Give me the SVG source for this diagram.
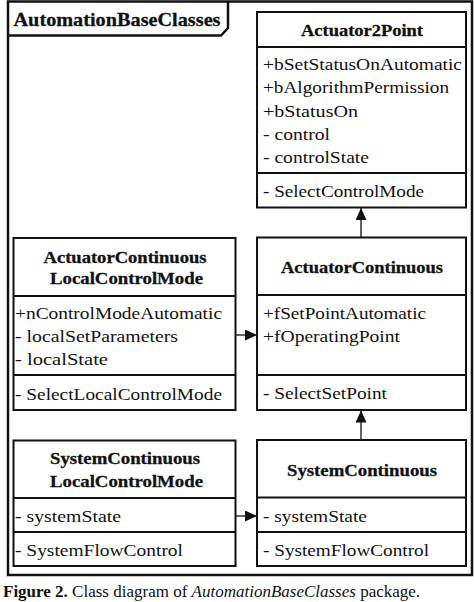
<svg xmlns="http://www.w3.org/2000/svg" width="474" height="602" viewBox="0 0 474 602">
<style>
.frame{fill:none;stroke:#111;stroke-width:2.5}
.box{fill:#fff;stroke:#111;stroke-width:2}
.div{stroke:#111;stroke-width:2}
.conn{stroke:#111;stroke-width:1.3;fill:none}
text{font-family:"Liberation Serif","Times New Roman",Times,serif;fill:#111}
.t{font-size:17px;font-weight:bold;stroke:#111;stroke-width:0.3}
.a{font-size:17px}
.tab{font-size:19.5px;font-weight:bold;stroke:#111;stroke-width:0.3}
.cap{font-size:17px}
</style>
<defs>
<marker id="tri" viewBox="0 0 12 11" refX="12" refY="5.5" markerWidth="12" markerHeight="11" markerUnits="userSpaceOnUse" orient="auto">
<path d="M0,0 L12,5.5 L0,11 z" fill="#111"/>
</marker>
</defs>
<rect width="474" height="602" fill="#fff"/>
<g id="package">
<rect class="frame" x="8" y="1.5" width="464" height="573.5"/>
<path class="frame" d="M228,1.5 L228,28 L221,35.5 L8,35.5"/>
<text class="tab" x="13.5" y="26" textLength="207" lengthAdjust="spacingAndGlyphs">AutomationBaseClasses</text>
</g>
<g id="connectors">
<line class="conn" x1="361" y1="237.5" x2="361" y2="208" marker-end="url(#tri)"/>
<line class="conn" x1="361" y1="440" x2="361" y2="410.5" marker-end="url(#tri)"/>
<line class="conn" x1="235.5" y1="335" x2="257" y2="335" marker-end="url(#tri)"/>
<line class="conn" x1="235.5" y1="516" x2="257" y2="516" marker-end="url(#tri)"/>
</g>
<g id="Actuator2Point">
<rect class="box" x="257" y="12" width="209" height="195.5"/>
<line class="div" x1="257" y1="47" x2="466" y2="47"/>
<line class="div" x1="257" y1="173" x2="466" y2="173"/>
<text class="t" x="301" y="35.5" textLength="122" lengthAdjust="spacingAndGlyphs">Actuator2Point</text>
<text class="a" x="263" y="70" textLength="199" lengthAdjust="spacingAndGlyphs">+bSetStatusOnAutomatic</text>
<text class="a" x="263" y="93.3" textLength="186" lengthAdjust="spacingAndGlyphs">+bAlgorithmPermission</text>
<text class="a" x="263" y="116.5" textLength="95" lengthAdjust="spacingAndGlyphs">+bStatusOn</text>
<text class="a" x="263" y="139.5" textLength="67" lengthAdjust="spacingAndGlyphs">- control</text>
<text class="a" x="263" y="162.7" textLength="106" lengthAdjust="spacingAndGlyphs">- controlState</text>
<text class="a" x="263" y="196.7" textLength="161" lengthAdjust="spacingAndGlyphs">- SelectControlMode</text>
</g>
<g id="ActuatorContinuous">
<rect class="box" x="257" y="237.5" width="209" height="172.5"/>
<line class="div" x1="257" y1="295" x2="466" y2="295"/>
<line class="div" x1="257" y1="375" x2="466" y2="375"/>
<text class="t" x="281" y="273.3" textLength="162" lengthAdjust="spacingAndGlyphs">ActuatorContinuous</text>
<text class="a" x="263" y="319.3" textLength="163" lengthAdjust="spacingAndGlyphs">+fSetPointAutomatic</text>
<text class="a" x="263" y="341.7" textLength="137" lengthAdjust="spacingAndGlyphs">+fOperatingPoint</text>
<text class="a" x="263" y="399.3" textLength="124" lengthAdjust="spacingAndGlyphs">- SelectSetPoint</text>
</g>
<g id="ActuatorContinuousLocalControlMode">
<rect class="box" x="13.5" y="238" width="222" height="172"/>
<line class="div" x1="13.5" y1="296" x2="235.5" y2="296"/>
<line class="div" x1="13.5" y1="375" x2="235.5" y2="375"/>
<text class="t" x="43.5" y="262.7" textLength="163" lengthAdjust="spacingAndGlyphs">ActuatorContinuous</text>
<text class="t" x="50" y="284.3" textLength="153" lengthAdjust="spacingAndGlyphs">LocalControlMode</text>
<text class="a" x="15" y="319.3" textLength="207" lengthAdjust="spacingAndGlyphs">+nControlModeAutomatic</text>
<text class="a" x="15" y="341.7" textLength="163" lengthAdjust="spacingAndGlyphs">- localSetParameters</text>
<text class="a" x="15" y="365" textLength="93" lengthAdjust="spacingAndGlyphs">- localState</text>
<text class="a" x="15" y="400" textLength="207" lengthAdjust="spacingAndGlyphs">- SelectLocalControlMode</text>
</g>
<g id="SystemContinuousLocalControlMode">
<rect class="box" x="13.5" y="440.5" width="222" height="125.5"/>
<line class="div" x1="13.5" y1="498" x2="235.5" y2="498"/>
<line class="div" x1="13.5" y1="532" x2="235.5" y2="532"/>
<text class="t" x="50" y="464.3" textLength="150" lengthAdjust="spacingAndGlyphs">SystemContinuous</text>
<text class="t" x="50" y="486.7" textLength="153" lengthAdjust="spacingAndGlyphs">LocalControlMode</text>
<text class="a" x="15" y="521.7" textLength="106" lengthAdjust="spacingAndGlyphs">- systemState</text>
<text class="a" x="15" y="556" textLength="168" lengthAdjust="spacingAndGlyphs">- SystemFlowControl</text>
</g>
<g id="SystemContinuous">
<rect class="box" x="257" y="440" width="209" height="126"/>
<line class="div" x1="257" y1="497.5" x2="466" y2="497.5"/>
<line class="div" x1="257" y1="532" x2="466" y2="532"/>
<text class="t" x="287" y="476" textLength="150" lengthAdjust="spacingAndGlyphs">SystemContinuous</text>
<text class="a" x="263" y="521.7" textLength="104" lengthAdjust="spacingAndGlyphs">- systemState</text>
<text class="a" x="263" y="556" textLength="166" lengthAdjust="spacingAndGlyphs">- SystemFlowControl</text>
</g>
<text class="cap" x="3" y="596.5"><tspan font-weight="bold">Figure 2.</tspan> Class diagram of <tspan font-style="italic">AutomationBaseClasses</tspan> package.</text>
</svg>
